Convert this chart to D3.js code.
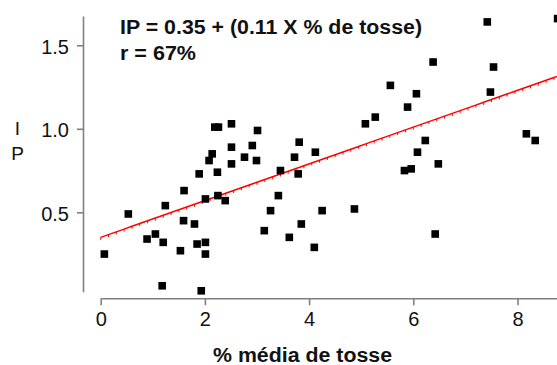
<html>
<head>
	<script src="https://d3js.org/d3.v7.min.js" charset="utf-8"></script>
	<style type="text/css">
	body { margin: 0; background: white; }
	svg { font-family: "Liberation Sans", Arial, sans-serif; }
	</style>
</head>
<body>
<script type="text/javascript">
	// size of the picture
	var w = 557;
	var h = 365;

	// % média de tosse (x) and IP (y)
	var tosse = [0.07, 0.53, 0.89, 1.05, 1.20, 1.18, 1.24, 1.53, 1.60, 1.59,
		1.80, 1.85, 1.89, 1.93, 2.01, 2.01, 2.01, 2.08, 2.14, 2.19,
		2.26, 2.24, 2.25, 2.39, 2.51, 2.51, 2.51, 2.76, 2.91, 2.99,
		3.01, 3.14, 3.26, 3.41, 3.45, 3.62, 3.72, 3.79, 3.81, 3.85,
		4.10, 4.12, 4.25, 4.87, 5.08, 5.27, 5.56, 5.83, 5.89, 5.96,
		6.06, 6.08, 6.23, 6.38, 6.42, 6.48, 7.42, 7.48, 7.54, 8.17,
		8.34, 8.77];
	var ip = [0.25, 0.49, 0.34, 0.37, 0.32, 0.06, 0.54, 0.27, 0.63, 0.45,
		0.43, 0.31, 0.73, 0.03, 0.58, 0.32, 0.25, 0.81, 0.85, 1.01,
		1.01, 0.74, 0.60, 0.57, 1.03, 0.89, 0.79, 0.83, 0.90, 0.81,
		0.99, 0.39, 0.51, 0.60, 0.75, 0.35, 0.83, 0.73, 0.92, 0.43,
		0.29, 0.86, 0.51, 0.52, 1.03, 1.07, 1.26, 0.75, 1.13, 0.76,
		1.21, 0.86, 0.93, 1.40, 0.37, 0.79, 1.64, 1.22, 1.37, 0.97,
		0.93, 1.66];

	// regression IP = a + b * tosse
	var a = 0.35;
	var b = 0.11;

	var xTicks = [0, 2, 4, 6, 8];
	var yTicks = [0.5, 1.0, 1.5];
	var xExtent = [0, 8.75];
	var yExtent = [0.025, 1.675];

	var titleLines = ["IP = 0.35 + (0.11 X % de tosse)", "r = 67%"];
	var xLabel = "% média de tosse";
	var yLabel = ["I", "P"];

	var x = d3.scaleLinear().domain(xExtent).range([100.7, 100.7 + 8.75 * 52.1]);
	var y = d3.scaleLinear().domain(yExtent).range([295.8 - 0.025 * 167, 295.8 - 1.675 * 167]);

	var svg = d3.select("body")
		.append("svg")
		.attr("width", w)
		.attr("height", h);

	// axes
	var xAxis = svg.append("g")
		.attr("transform", "translate(0,298.3)")
		.call(d3.axisBottom(x).tickValues(xTicks).tickSize(7).tickSizeOuter(0).tickPadding(7));
	var yAxis = svg.append("g")
		.attr("transform", "translate(83,0)")
		.call(d3.axisLeft(y).tickValues(yTicks).tickFormat(d3.format(".1f")).tickSize(6).tickSizeOuter(0).tickPadding(8));
	[xAxis, yAxis].forEach(function(g) {
		g.select(".domain").attr("stroke", "#808080").attr("stroke-width", 1.6);
		g.selectAll(".tick line").attr("stroke", "#808080").attr("stroke-width", 1.6);
		g.selectAll(".tick text").attr("fill", "#111").attr("font-size", 20)
			.attr("font-family", "Liberation Sans, Arial, sans-serif");
	});
	yAxis.selectAll(".tick text").attr("dy", "0.4em");

	// regression line, with the little stubs of the original
	var steps = d3.range(xExtent[0], xExtent[1] + 0.3, 0.15);
	var line = d3.line()
		.x(function(d) { return x(d); })
		.y(function(d) { return y(a + b * d); });
	svg.append("path")
		.datum(steps)
		.attr("d", line)
		.attr("fill", "none")
		.attr("stroke", "red")
		.attr("stroke-width", 1.5);
	svg.selectAll(".stub")
		.data(steps)
		.enter().append("line")
		.attr("class", "stub")
		.attr("x1", function(d) { return x(d); })
		.attr("x2", function(d) { return x(d); })
		.attr("y1", function(d) { return y(a + b * d); })
		.attr("y2", function(d) { return y(a + b * d) + 2.5; })
		.attr("stroke", "red")
		.attr("stroke-width", 1);

	// points
	var sz = 7.6;
	svg.selectAll(".pt")
		.data(d3.range(tosse.length))
		.enter().append("rect")
		.attr("class", "pt")
		.attr("x", function(i) { return x(tosse[i]) - sz / 2; })
		.attr("y", function(i) { return y(ip[i]) - sz / 2; })
		.attr("width", sz)
		.attr("height", sz)
		.attr("fill", "black");

	// texts
	svg.selectAll(".title")
		.data(titleLines)
		.enter().append("text")
		.attr("class", "title")
		.text(function(d) { return d; })
		.attr("x", 120)
		.attr("y", function(d, i) { return 34.3 + i * 25.7; })
		.attr("font-size", 19.5)
		.attr("font-weight", "bold")
		.attr("fill", "#111")
		.attr("textLength", function(d, i) { return i == 0 ? 302 : 76; })
		.attr("lengthAdjust", "spacingAndGlyphs");

	svg.append("text")
		.text(xLabel)
		.attr("x", 213)
		.attr("y", 362)
		.attr("font-size", 19.5)
		.attr("font-weight", "bold")
		.attr("fill", "#111")
		.attr("textLength", 179)
		.attr("lengthAdjust", "spacingAndGlyphs");

	svg.selectAll(".ylab")
		.data(yLabel)
		.enter().append("text")
		.attr("class", "ylab")
		.text(function(d) { return d; })
		.attr("x", 17.5)
		.attr("y", function(d, i) { return 135 + i * 25; })
		.attr("text-anchor", "middle")
		.attr("font-size", 19)
		.attr("fill", "#111");
</script>
</body>
</html>
